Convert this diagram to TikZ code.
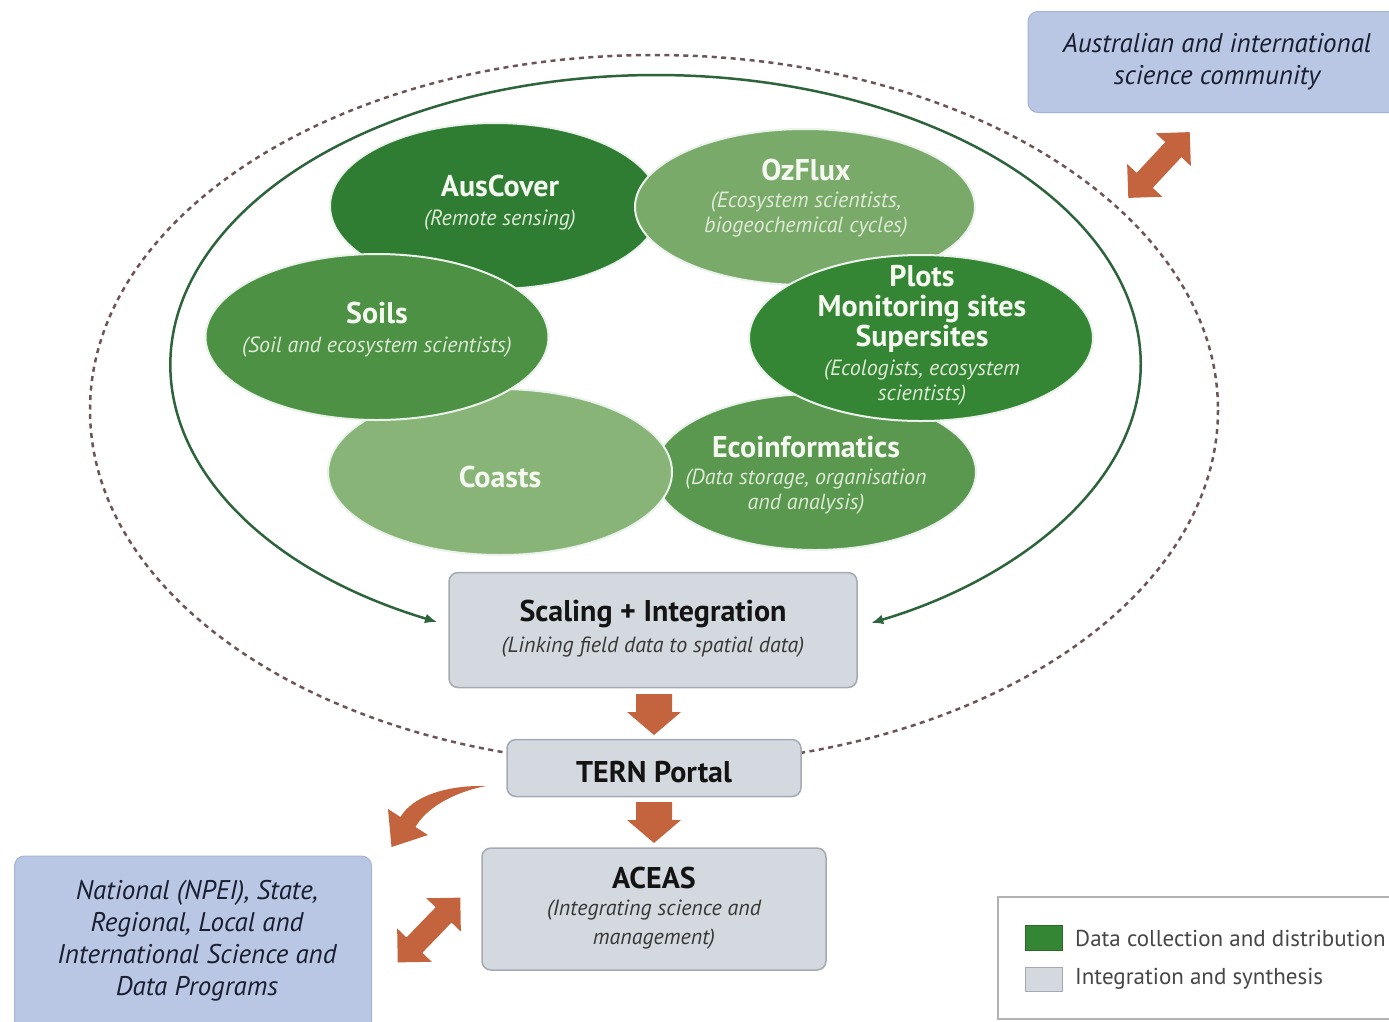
\documentclass[tikz,border=0pt]{standalone}
\usepackage{fontspec}
\setmainfont{PT Sans}
\usetikzlibrary{arrows.meta,shapes.geometric}
\definecolor{gAus}{RGB}{46,125,50}
\definecolor{gOz}{RGB}{122,170,106}
\definecolor{gSoil}{RGB}{76,145,68}
\definecolor{gPlot}{RGB}{52,134,52}
\definecolor{gCoast}{RGB}{136,180,120}
\definecolor{gEco}{RGB}{90,152,80}
\definecolor{gline}{RGB}{45,100,60}
\definecolor{dashc}{RGB}{110,85,85}
\definecolor{boxfill}{RGB}{212,216,223}
\definecolor{boxdraw}{RGB}{165,170,178}
\definecolor{bluefill}{RGB}{186,199,228}
\definecolor{bluedraw}{RGB}{165,180,212}
\definecolor{orng}{RGB}{196,100,62}
\definecolor{wtxt}{RGB}{245,248,240}
\definecolor{wsub}{RGB}{222,234,214}
\definecolor{dtxt}{RGB}{20,20,20}
\definecolor{navy}{RGB}{25,30,48}
\definecolor{legtxt}{RGB}{70,70,70}
\begin{document}
\begin{tikzpicture}[x=1pt,y=-1pt,
  blob/.style={ellipse, draw=white!75!gAus!40, line width=2pt, inner sep=0pt},
  ttl/.style={text=wtxt, font=\fontsize{30}{30}\selectfont\bfseries, align=center, inner sep=0pt},
  sbt/.style={text=wsub, font=\fontsize{22}{25}\selectfont\itshape, align=center, inner sep=0pt},
  gbox/.style={draw=boxdraw, fill=boxfill, line width=1.5pt, rounded corners=9pt, inner sep=0pt},
  bbox/.style={draw=bluedraw, fill=bluefill, line width=1pt, rounded corners=10pt, inner sep=0pt},
  dttl/.style={text=dtxt, font=\fontsize{30}{30}\selectfont\bfseries, align=center, inner sep=0pt},
  dsbt/.style={text=black!78, font=\fontsize{22}{29}\selectfont\itshape, align=center, inner sep=0pt},
  btxt/.style={text=navy, font=\fontsize{27}{32}\selectfont\itshape, align=center, inner sep=0pt},
  ltxt/.style={text=legtxt, font=\fontsize{23}{26}\selectfont, anchor=west, inner sep=0pt},
  garrow/.style={gline, line width=2.5pt, {Latex[length=12pt,width=10pt]}-{Latex[length=12pt,width=10pt]}},
  dashline/.style={dashc, line width=2.5pt, dash pattern=on 5pt off 4.5pt},
  downarr/.pic={\fill[orng] (-18,0) -- (18,0) -- (18,18) -- (27,18) -- (0,41) -- (-27,18) -- (-18,18) -- cycle;},
  dblarr/.pic={\fill[orng] (-45,0) -- (-21,-24) -- (-21,-11) -- (21,-11) -- (21,-24) -- (45,0) -- (21,24) -- (21,11) -- (-21,11) -- (-21,24) -- cycle;}
]
\useasboundingbox (0,0) rectangle (1389,1021);
\clip (0,0) rectangle (1389,1021);
\fill[white] (0,0) rectangle (1389,1021);

% dashed outer loop
\draw[dashline] (654,410) ellipse [x radius=564, y radius=355];

% green loop with arrows to Scaling + Integration
\coordinate (gl) at (437,622);
\coordinate (gr) at (870,622);
\draw[garrow] (gl) arc[start angle=116.8, end angle=423.6, x radius=485, y radius=289];

% ellipses
\node[blob, fill=gAus, minimum width=330pt, minimum height=166pt] (aus) at (495,206) {};
\node[blob, fill=gOz, minimum width=340pt, minimum height=156pt] (oz) at (805,207) {};
\node[blob, fill=gEco, minimum width=322pt, minimum height=156pt] (eco) at (815,472) {};
\node[blob, fill=gCoast, minimum width=344pt, minimum height=166pt] (coast) at (500,472) {};
\node[blob, fill=gSoil, minimum width=343pt, minimum height=166pt] (soil) at (377,337) {};
\node[blob, fill=gPlot, minimum width=344pt, minimum height=166pt] (plot) at (921,338) {};

\node[ttl] (aus-t) at (500,186) {AusCover};
\node[sbt] (aus-s) at (500,220) {(Remote sensing)};
\node[ttl] (oz-t) at (806,170) {OzFlux};
\node[sbt] (oz-s) at (806,215) {(Ecosystem scientists,\\biogeochemical cycles)};
\node[ttl] (soil-t) at (377,313) {Soils};
\node[sbt] (soil-s) at (377,347) {(Soil and ecosystem scientists)};
\node[ttl] (plot-t) at (922,309) {Plots\\Monitoring sites\\Supersites};
\node[sbt] (plot-s) at (922,383) {(Ecologists, ecosystem\\scientists)};
\node[ttl] (coast-t) at (500,477) {Coasts};
\node[ttl] (eco-t) at (806,447) {Ecoinformatics};
\node[sbt] (eco-s) at (806,492) {(Data storage, organisation\\and analysis)};

% integration boxes
\node[gbox, minimum width=408pt, minimum height=115pt] (scale) at (653,630) {};
\node[dttl] (scale-t) at (653,614) {Scaling + Integration};
\node[dsbt] (scale-s) at (653,647) {(Linking field data to spatial data)};

\node[gbox, minimum width=294pt, minimum height=57pt] (tern) at (654,768) {};
\node[dttl] (tern-t) at (654,772) {TERN Portal};

\node[gbox, minimum width=344pt, minimum height=122pt] (aceas) at (654,909) {};
\node[dttl] (aceas-t) at (654,878) {ACEAS};
\node[dsbt] (aceas-s) at (654,925) {(Integrating science and\\management)};

% block arrows
\pic at (654,694) {downarr};
\pic at (654,802) {downarr};

% community boxes
\node[bbox, minimum width=384pt, minimum height=101pt] (aus-com) at (1220,62) {};
\node[btxt] (aus-com-t) at (1217,62) {Australian and international\\science community};
\node[bbox, minimum width=357pt, minimum height=180pt] (nat) at (193,946) {};
\node[btxt] (nat-t) at (197,941) {National (NPEI), State,\\Regional, Local and\\International Science and\\Data Programs};

\pic[rotate=47] at (1159,165) {dblarr};
\pic[rotate=46] at (429,930) {dblarr};

% curved arrow from TERN Portal towards national programs
\fill[orng] (486,786) .. controls (445,785) and (412,797) .. (400.5,817)
  -- (388,809) -- (391.5,847) -- (428,835) -- (415.5,827)
  .. controls (425,810) and (450,793) .. (486,786) -- cycle;

% legend
\node[draw=black!30, fill=white, line width=1.5pt, minimum width=402pt, minimum height=122pt, inner sep=0pt] (legend) at (1199,958) {};
\node[fill=gPlot, draw=gPlot!80!black, minimum width=37pt, minimum height=25pt, inner sep=0pt] (sw1) at (1043.5,937.5) {};
\node[fill=boxfill, draw=boxdraw, minimum width=37pt, minimum height=24pt, inner sep=0pt] (sw2) at (1043.5,979) {};
\node[ltxt] (l1) at (1075,938) {Data collection and distribution};
\node[ltxt] (l2) at (1075,979) {Integration and synthesis};
\end{tikzpicture}
\end{document}
